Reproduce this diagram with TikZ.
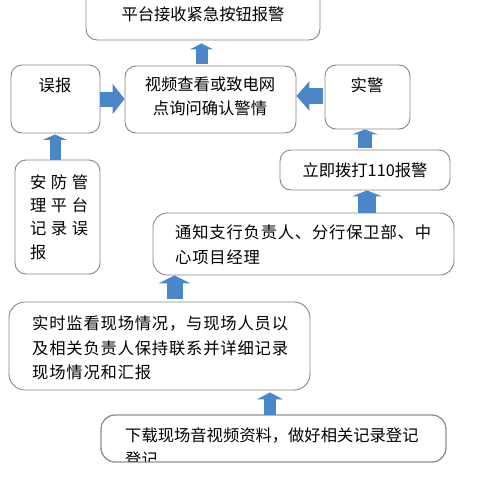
\documentclass[tikz,border=0pt]{standalone}
\usepackage{fontspec}
\setmainfont{Noto Sans CJK SC}
\usetikzlibrary{arrows.meta}
\definecolor{arrowblue}{RGB}{74,134,200}
\definecolor{boxgray}{RGB}{135,135,135}
\tikzset{
  box/.style={draw=boxgray, line width=0.9pt, rounded corners=11pt, fill=white, inner sep=0pt},
  txt/.style={inner sep=0pt, font=\fontsize{16.3}{24}\selectfont},
  barrow/.style n args={3}{line width=#1, draw=arrowblue, -{Triangle[width=#2, length=#3]}}
}
\begin{document}
\begin{tikzpicture}[x=1pt,y=-1pt]
\clip (0,0) rectangle (480,480);
\fill[white] (0,0) rectangle (480,480);
% boxes
\node[box, minimum width=234pt, minimum height=60pt] (top) at (203,10) {};
\node[box, minimum width=89pt, minimum height=68pt] (mis) at (55.5,99) {};
\node[box, minimum width=171pt, minimum height=67pt] (ctr) at (210.5,99.5) {};
\node[box, minimum width=85pt, minimum height=64pt] (real) at (367.5,97) {};
\node[box, minimum width=85pt, minimum height=114pt] (safe) at (57.5,217) {};
\node[box, minimum width=170pt, minimum height=40pt] (call) at (365,170) {};
\node[box, minimum width=301pt, minimum height=62pt, rounded corners=14pt] (notify) at (303.5,244) {};
\node[box, minimum width=301pt, minimum height=88pt, rounded corners=16pt] (mon) at (159.5,346) {};
\node[box, minimum width=345pt, minimum height=47pt, rounded corners=14pt] (down) at (273.5,438.5) {};
% texts
\node[txt] (ttop) at (203,14) {平台接收紧急按钮报警};
\node[txt] (tmis) at (55,85) {误报};
\node[txt, align=center] (tctr) at (210,96) {视频查看或致电网\\点询问确认警情};
\node[txt] (treal) at (367,85) {实警};
\node[txt, anchor=west] (ts1) at (30,182) {安\hspace{4.5pt}防\hspace{4.5pt}管};
\node[txt, anchor=west] (ts2) at (30,205) {理\hspace{4.5pt}平\hspace{4.5pt}台};
\node[txt, anchor=west] (ts3) at (30,229) {记\hspace{4.5pt}录\hspace{4.5pt}误};
\node[txt, anchor=west] (ts4) at (30,252) {报};
\node[txt] (tcall) at (365,170) {立即拨打110报警};
\node[txt, anchor=west] (tn1) at (175,232) {\addfontfeature{LetterSpace=5}通知支行负责人、分行保卫部、中};
\node[txt, anchor=west] (tn2) at (175,257) {\addfontfeature{LetterSpace=5}心项目经理};
\node[txt, anchor=west] (tm1) at (32,323) {\addfontfeature{LetterSpace=5}实时监看现场情况，与现场人员以};
\node[txt, anchor=west] (tm2) at (32,348) {\addfontfeature{LetterSpace=5}及相关负责人保持联系并详细记录};
\node[txt, anchor=west] (tm3) at (32,372) {\addfontfeature{LetterSpace=5}现场情况和汇报};
\node[txt, anchor=west] (td1) at (125,435) {下载现场音视频资料，做好相关记录登记};
\begin{scope}
\clip (101,415) rectangle (446,461.5);
\node[txt, anchor=west] (td2) at (125,459) {登记};
\end{scope}
\draw[boxgray, line width=0.9pt, rounded corners=14pt] (101,415) rectangle (446,462);
% arrows
\draw[barrow={12pt}{23pt}{6pt}, shorten <=2pt, shorten >=3pt] ([xshift=-9pt]ctr.north) -- ([xshift=-9pt]ctr.north |- top.south);
\draw[barrow={15pt}{30pt}{12pt}] (mis.east) -- (mis.east -| ctr.west);
\draw[barrow={16pt}{29pt}{13pt}, shorten <=2pt] ([yshift=1pt]real.west) -- ([yshift=1pt]real.west -| ctr.east);
\draw[barrow={11pt}{24pt}{5.5pt}, shorten >=1pt] ([xshift=-2.5pt]safe.north) -- ([xshift=-2.5pt]safe.north |- mis.south);
\draw[barrow={14pt}{26pt}{5pt}, shorten <=2pt] (call.north) -- (call.north |- real.south);
\draw[barrow={18pt}{30pt}{6pt}] ([xshift=2pt]call.south |- notify.north) -- ([xshift=2pt]call.south);
\draw[barrow={16pt}{32pt}{8pt}, shorten <=3pt] ([xshift=15pt]mon.north) -- ([xshift=15pt]mon.north |- notify.south);
\draw[barrow={12pt}{26pt}{7pt}, shorten >=2pt] ([xshift=-3.5pt]down.north) -- ([xshift=-3.5pt]down.north |- mon.south);
\end{tikzpicture}
\end{document}
